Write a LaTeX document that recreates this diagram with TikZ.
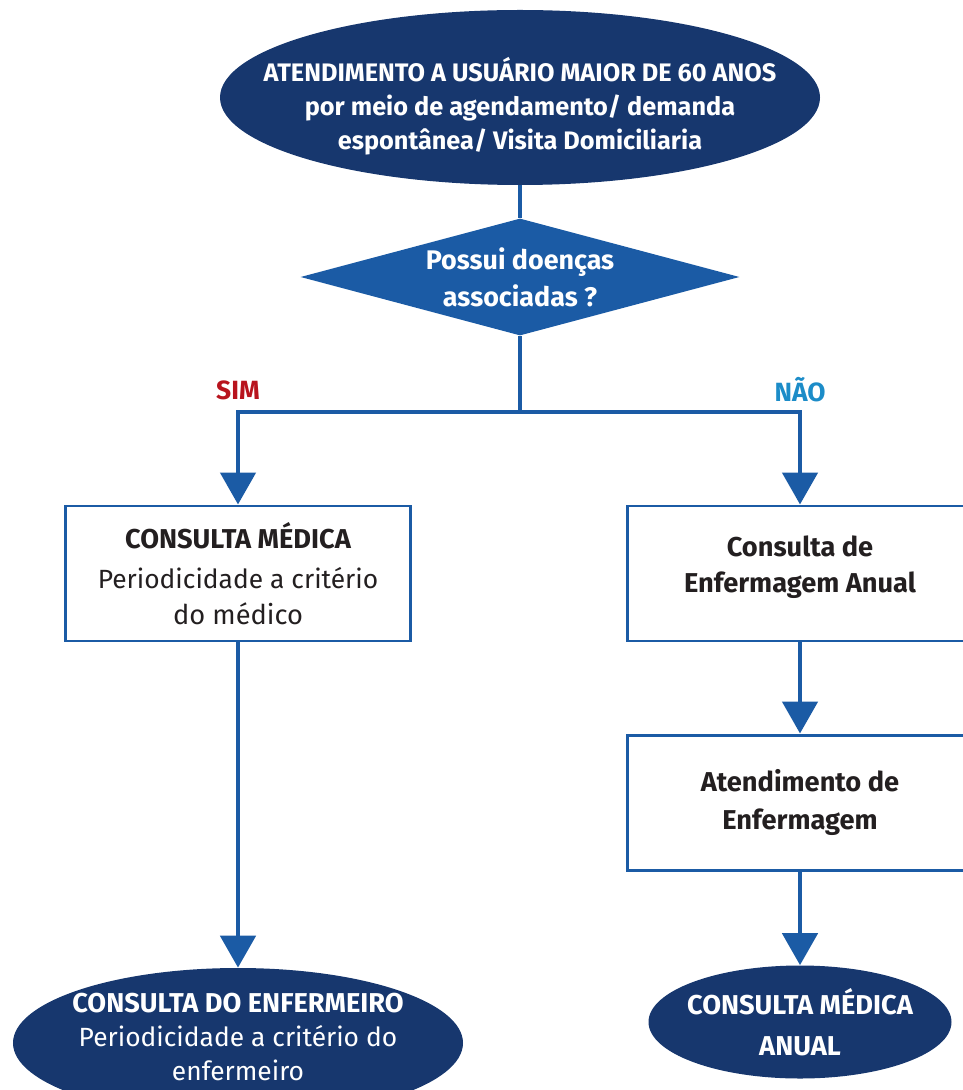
\documentclass[tikz,border=0pt]{standalone}
\usepackage{fontspec}
\setmainfont{Fira Sans}
\usetikzlibrary{shapes.geometric,arrows.meta,positioning}

\definecolor{navy}{HTML}{17376E}
\definecolor{flowblue}{HTML}{1B5BA5}
\definecolor{ink}{HTML}{231F20}
\definecolor{simred}{HTML}{B8141E}
\definecolor{naoblue}{HTML}{1C8CC8}

\begin{document}
\begin{tikzpicture}[
  oval/.style={ellipse, fill=navy, text=white, align=center, inner sep=0pt},
  ask/.style={diamond, fill=flowblue, text=white, align=center, inner sep=0pt,
    aspect=3.75, minimum width=8.78cm, minimum height=2.34cm,
    font=\bfseries\fontsize{15.3}{21}\selectfont},
  card/.style={rectangle, draw=flowblue, line width=1.7pt, fill=white, text=ink,
    align=center, minimum width=6.9cm, minimum height=2.7cm},
  caption/.style={align=center, inner sep=0pt},
  link/.style={draw=flowblue, line width=2.8pt},
  flow/.style={link, -{Triangle[length=0.64cm,width=0.7cm]}},
  branch/.style={font=\bfseries\fontsize{15}{17}\selectfont}
]

% Page frame
\useasboundingbox (0,0) rectangle (19.24,-21.8);

%%%%%%%%%%%%%%%%%%%%%%%%%%%%%%%%%%%%%%%%%%%%%%%%%%
% Start and question
%%%%%%%%%%%%%%%%%%%%%%%%%%%%%%%%%%%%%%%%%%%%%%%%%%

\node[oval, minimum width=12cm, minimum height=3.5cm] (start) at (10.4,-1.95) {};
\node[caption, text=white, font=\bfseries\fontsize{14.4}{19.2}\selectfont]
  (starttext) at ([yshift=-0.17cm]start.center)
  {ATENDIMENTO A USUÁRIO MAIOR DE 60 ANOS\\
   por meio de agendamento/ demanda\\
   espontânea/ Visita Domiciliaria};

\node[ask] (ask) at (10.4,-5.54) {Possui doenças\\associadas ?};

%%%%%%%%%%%%%%%%%%%%%%%%%%%%%%%%%%%%%%%%%%%%%%%%%%
% Left branch
%%%%%%%%%%%%%%%%%%%%%%%%%%%%%%%%%%%%%%%%%%%%%%%%%%

\node[card, font=\fontsize{15.5}{20}\selectfont] (medica) at (4.76,-11.47)
  {\bfseries CONSULTA MÉDICA\\[3pt]
   \mdseries\fontsize{15}{20}\selectfont Periodicidade a critério\\ do médico};

\node[oval, minimum width=9cm, minimum height=3cm] (enfermeiro) at (4.76,-20.86) {};
\node[caption, text=white, font=\fontsize{15}{19.2}\selectfont]
  (enfermeirotext) at ([yshift=0.12cm]enfermeiro.center)
  {\bfseries\fontsize{15.5}{19.2}\selectfont CONSULTA DO ENFERMEIRO\\
   \mdseries\fontsize{15}{19.2}\selectfont Periodicidade a critério do\\ enfermeiro};

%%%%%%%%%%%%%%%%%%%%%%%%%%%%%%%%%%%%%%%%%%%%%%%%%%
% Right branch
%%%%%%%%%%%%%%%%%%%%%%%%%%%%%%%%%%%%%%%%%%%%%%%%%%

\node[card] (anual) at (16.0,-11.47) {};
\node[caption, text=ink, font=\bfseries\fontsize{15.5}{20.5}\selectfont]
  (anualtext) at ([yshift=0.12cm]anual.center)
  {Consulta de\\Enfermagem Anual};

\node[card, font=\bfseries\fontsize{15.5}{22}\selectfont] (atend) at (16.0,-16.05)
  {Atendimento de\\Enfermagem};

\node[oval, minimum width=6.06cm, minimum height=2.26cm, inner xsep=-0.5cm,
  font=\bfseries\fontsize{15.5}{23}\selectfont] (medanual) at (16.0,-20.44)
  {CONSULTA MÉDICA\\ANUAL};

%%%%%%%%%%%%%%%%%%%%%%%%%%%%%%%%%%%%%%%%%%%%%%%%%%
% Connectors
%%%%%%%%%%%%%%%%%%%%%%%%%%%%%%%%%%%%%%%%%%%%%%%%%%

\coordinate (fork) at (10.4,-8.24);

\draw[link] (start.south) -- (ask.north);
\draw[link] (ask.south) -- (fork);
\draw[flow] (fork) -| (medica.north);
\draw[flow] (fork) -| (anual.north);
\draw[flow] (medica.south) -- (enfermeiro.north);
\draw[flow] (anual.south) -- (atend.north);
\draw[flow] (atend.south) -- (medanual.north);

% Branch labels
\node[branch, text=simred] (sim) at (4.76,-7.8) {SIM};
\node[branch, text=naoblue] (nao) at (16.0,-7.8) {NÃO};

\end{tikzpicture}
\end{document}
